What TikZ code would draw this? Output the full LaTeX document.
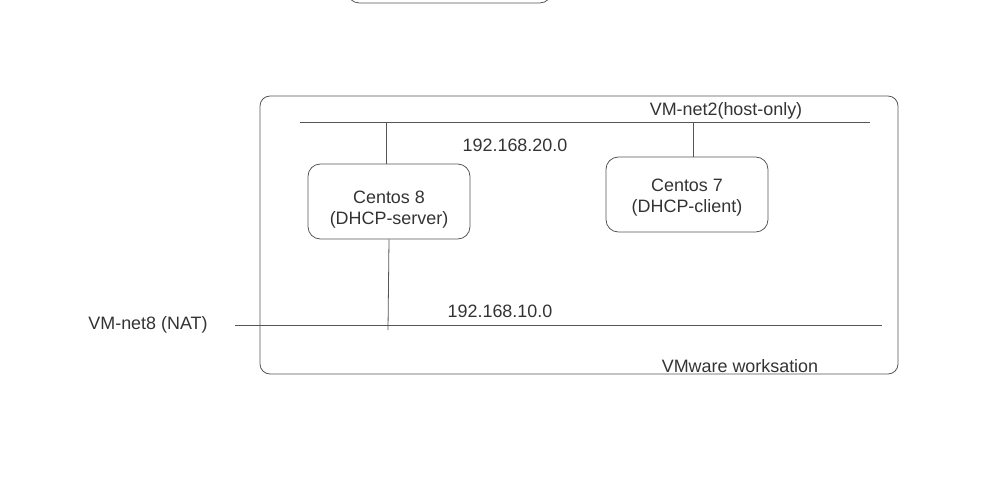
\documentclass[tikz,border=0pt]{standalone}
\usepackage{fontspec}
\setmainfont{Liberation Sans}
\usepackage[rgb]{xcolor}
\usepackage{tikz}

\definecolor{linegray}{RGB}{85,85,85}
\definecolor{textgray}{RGB}{51,51,51}

\begin{document}
\begin{tikzpicture}[x=0.02cm, y=-0.02cm,
  every node/.style={text=textgray, font=\fontsize{10.2pt}{11.9pt}\selectfont},
  net/.style={draw=linegray, line width=0.45pt},
  vmbox/.style={draw=linegray, line width=0.45pt, rounded corners=7pt, minimum width=3.24cm, minimum height=1.5cm, inner sep=0pt},
  vmtext/.style={align=center, inner sep=0pt}]

% Fixes the page size and cuts off what lies outside
\useasboundingbox (0,0) rectangle (981,484);
\clip (0,0) rectangle (981,484);

% Draws the box that is cut by the top edge and the VMware box
\draw [net, rounded corners=7pt] (347,-40) rectangle (552,3);
\draw [net, rounded corners=5.7pt] (260,96) rectangle (898,374);

% Draws the two networks
\coordinate (net2w) at (300,122);
\coordinate (net2e) at (870,122);
\coordinate (net8w) at (235,325);
\coordinate (net8e) at (882,325);
\draw [net] (net2w) -- (net2e);
\draw [net] (net8w) -- (net8e);

% Writes out the network names and addresses
\node (net2) at (726,111) {VM-net2(host-only)};
\node (net8) at (148,325) {VM-net8 (NAT)};
\node (addr20) at (515,145) {192.168.20.0};
\node (addr10) at (500,311) {192.168.10.0};
\node (vmware) at (740,366) {VMware worksation};

% Draws the two virtual machines, text set a little low as in the sketch
\node [vmbox] (centos8) at (389,201.5) {};
\node [vmbox] (centos7) at (687,194.5) {};
\node [vmtext] (centos8txt) at (389,209.5) {Centos 8\\(DHCP-server)};
\node [vmtext] (centos7txt) at (687,197.5) {Centos 7\\(DHCP-client)};

% Connects the machines to the networks
\coordinate (tap8) at (386,122);
\coordinate (tap7) at (693,122);
\coordinate (end8) at (388,330);
\draw [net] (tap8) -- (tap8 |- centos8.north);
\draw [net] (tap7) -- (tap7 |- centos7.north);
\draw [net] (centos8.south) -- (end8);

\end{tikzpicture}
\end{document}
